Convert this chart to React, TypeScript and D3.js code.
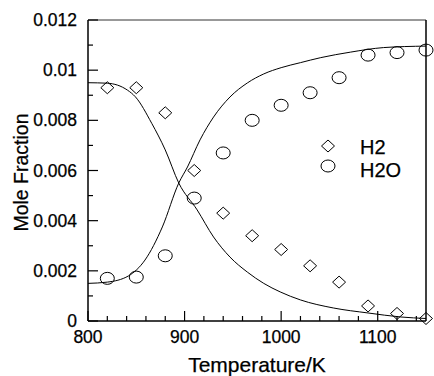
import React from "react";
import * as d3 from "d3";

const W = 434;
const H = 376;

// Experimental points
const tempPoints = [820, 850, 880, 910, 940, 970, 1000, 1030, 1060, 1090, 1120, 1150];
const h2Points = [0.0093, 0.0093, 0.0083, 0.006, 0.0043, 0.0034, 0.00285, 0.0022, 0.00155, 0.0006, 0.0003, 0.0001];
const h2oPoints = [0.0017, 0.00175, 0.0026, 0.0049, 0.0067, 0.008, 0.0086, 0.0091, 0.0097, 0.0106, 0.0107, 0.0108];

// Model curves
const h2LineT = [800, 820, 841, 849, 866, 880, 894, 913, 930, 947, 965, 982, 999, 1020, 1054, 1090, 1124, 1150];
const h2LineY = [0.0095, 0.00948, 0.0092, 0.00894, 0.00788, 0.00682, 0.0055, 0.00443, 0.00335, 0.00255, 0.00195, 0.0015, 0.00116, 0.00084, 0.00052, 0.00032, 0.00016, 0.0001];
const h2oLineT = [800, 820, 842, 859, 877, 894, 903, 916, 930, 947, 965, 982, 1000, 1020, 1041, 1072, 1106, 1150];
const h2oLineY = [0.0015, 0.00155, 0.0018, 0.00243, 0.00375, 0.0055, 0.00614, 0.00722, 0.00813, 0.00893, 0.00949, 0.00985, 0.0101, 0.0103, 0.0105, 0.01072, 0.0109, 0.01096];

const xMajor = [800, 900, 1000, 1100];
const xMinor = d3.range(820, 1150, 20).filter((v) => v % 100 !== 0);
const yMajor = [0, 0.002, 0.004, 0.006, 0.008, 0.01, 0.012];
const yLabels = ["0", "0.002", "0.004", "0.006", "0.008", "0.01", "0.012"];
const yMinor = [0.001, 0.003, 0.005, 0.007, 0.009, 0.011];

const seriesNames = ["H2", "H2O"];

export default function App() {
  const left = 88, right = 426, top = 20, bottom = 321;
  const x = d3.scaleLinear().domain([800, 1150]).range([left, right]);
  const y = d3.scaleLinear().domain([0, 0.012]).range([bottom, top]);
  const line = d3
    .line<[number, number]>()
    .x((d) => x(d[0]))
    .y((d) => y(d[1]))
    .curve(d3.curveMonotoneX);
  const h2Line = line(h2LineT.map((t, i) => [t, h2LineY[i]]) as [number, number][]) || "";
  const h2oLine = line(h2oLineT.map((t, i) => [t, h2oLineY[i]]) as [number, number][]) || "";
  const font = "'Liberation Sans', Arial, Helvetica, sans-serif";
  const diamond = (cx: number, cy: number, rx = 6.5, ry = 6) =>
    `M${cx},${cy - ry}L${cx + rx},${cy}L${cx},${cy + ry}L${cx - rx},${cy}Z`;
  const ts = { stroke: "#000", strokeWidth: 0.25 };

  return (
    <svg width={W} height={H} style={{ position: "absolute", left: 0, top: 0, background: "#fff" }} fontFamily={font}>
      <rect x={0} y={0} width={W} height={H} fill="#fff" />
      {/* model curves */}
      <path d={h2Line} fill="none" stroke="#000" strokeWidth={1} />
      <path d={h2oLine} fill="none" stroke="#000" strokeWidth={1} />
      {/* frame */}
      <line x1={left} x2={right} y1={top} y2={top} stroke="#333" strokeWidth={1} />
      <line x1={right} x2={right} y1={top} y2={bottom} stroke="#000" strokeWidth={1.5} />
      <line x1={left} x2={left} y1={top} y2={bottom} stroke="#000" strokeWidth={1.5} />
      <line x1={left} x2={right} y1={bottom} y2={bottom} stroke="#000" strokeWidth={1.5} />
      {/* y ticks */}
      {yMajor.map((v, i) => (
        <g key={"ym" + i}>
          <line x1={left} x2={left + 10} y1={y(v)} y2={y(v)} stroke="#000" strokeWidth={1.2} />
          <text x={77} y={y(v) + 6} textAnchor="end" fontSize={17.5} fill="#000" {...ts}>
            {yLabels[i]}
          </text>
        </g>
      ))}
      {yMinor.map((v, i) => (
        <line key={"yn" + i} x1={left} x2={left + 5} y1={y(v)} y2={y(v)} stroke="#000" strokeWidth={1.2} />
      ))}
      {/* x ticks */}
      {xMajor.map((v, i) => (
        <g key={"xm" + i}>
          <line x1={x(v)} x2={x(v)} y1={bottom} y2={bottom - 10} stroke="#000" strokeWidth={1.2} />
          <text x={x(v)} y={343} textAnchor="middle" fontSize={17.5} fill="#000" {...ts}>
            {v}
          </text>
        </g>
      ))}
      {xMinor.map((v, i) => (
        <line key={"xn" + i} x1={x(v)} x2={x(v)} y1={bottom} y2={bottom - 5} stroke="#000" strokeWidth={1.2} />
      ))}
      {/* points */}
      {tempPoints.map((t, i) => (
        <path key={"d" + i} d={diamond(x(t), y(h2Points[i]))} fill="none" stroke="#000" strokeWidth={1} />
      ))}
      {tempPoints.map((t, i) => (
        <ellipse key={"c" + i} cx={x(t)} cy={y(h2oPoints[i])} rx={7} ry={6} fill="none" stroke="#000" strokeWidth={1} />
      ))}
      {/* legend */}
      <path d={diamond(328, 146)} fill="none" stroke="#000" strokeWidth={1} />
      <text x={360} y={154} fontSize={20} fill="#000" {...ts}>{seriesNames[0]}</text>
      <ellipse cx={328} cy={166} rx={7} ry={6} fill="none" stroke="#000" strokeWidth={1} />
      <text x={360} y={177} fontSize={20} fill="#000" {...ts}>{seriesNames[1]}</text>
      {/* axis titles */}
      <text x={(left + right) / 2} y={372} textAnchor="middle" fontSize={21} fill="#000" {...ts}>
        Temperature/K
      </text>
      <text transform={`translate(28,${(top + bottom) / 2 + 2}) rotate(-90)`} textAnchor="middle" fontSize={19.5} fill="#000" {...ts}>
        Mole Fraction
      </text>
    </svg>
  );
}
